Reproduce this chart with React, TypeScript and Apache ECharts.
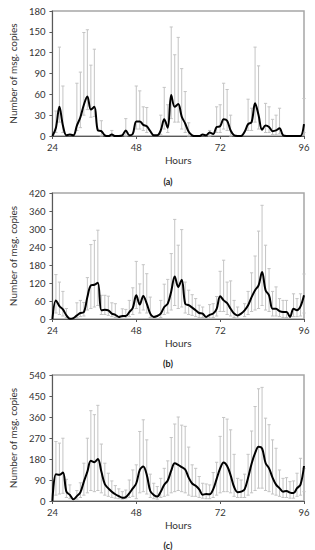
import React, { useEffect, useRef } from "react";
import * as echarts from "echarts";

const hours = [
  24, 25, 26, 27, 28, 29, 30, 31, 32, 33, 34, 35, 36, 37, 38, 39, 40, 41, 42, 43, 44, 45, 46, 47, 48,
  49, 50, 51, 52, 53, 54, 55, 56, 57, 58, 59, 60, 61, 62, 63, 64, 65, 66, 67, 68, 69, 70, 71, 72,
  73, 74, 75, 76, 77, 78, 79, 80, 81, 82, 83, 84, 85, 86, 87, 88, 89, 90, 91, 92, 93, 94, 95, 96,
];
const xTicks = [24, 48, 72, 96];

// Panel (a)
const lineA = [
  0, 12, 42, 15, 1, 2, 1, 15, 27, 45, 57, 38, 42, 8, 7, 1, 0, 2, 0, 0, 1, 8, 1, 3, 21,
  21, 16, 14, 7, 1, 1, 8, 24, 12, 59, 42, 46, 28, 18, 6, 1, 0, 0, 2, 1, 5, 3, 13, 14,
  24, 22, 8, 1, 0, 0, 6, 17, 20, 47, 30, 9, 15, 13, 7, 8, 11, 1, 0, 0, 0, 0, 0, 17,
];
const barHoursA = [25, 26, 27, 31, 32, 33, 34, 35, 36, 38, 41, 45, 48, 49, 50, 51, 55, 56, 57, 58, 59, 60, 61, 62, 63, 69, 71, 72, 73, 74, 75, 80, 81, 82, 83, 85, 86, 87, 88, 89, 96];
const barLowA = [5, 20, 5, 8, 12, 30, 38, 27, 28, 0, 0, 0, 10, 10, 8, 5, 2, 10, 5, 25, 20, 20, 10, 5, 0, 0, 5, 5, 10, 8, 0, 8, 8, 20, 10, 5, 5, 2, 2, 3, 5];
const barHighA = [36, 128, 72, 76, 92, 149, 153, 102, 125, 22, 8, 25, 72, 65, 42, 41, 30, 70, 45, 157, 117, 142, 97, 64, 19, 8, 42, 45, 76, 67, 30, 53, 40, 128, 101, 47, 42, 24, 30, 40, 54];

// Panel (b)
const lineB = [
  0, 62, 43, 32, 12, 1, 3, 12, 20, 23, 73, 112, 114, 121, 29, 31, 29, 18, 14, 7, 10, 10, 23, 37, 79,
  48, 77, 51, 18, 7, 10, 18, 40, 51, 92, 142, 107, 131, 51, 46, 38, 29, 20, 18, 7, 14, 18, 34, 76,
  62, 53, 34, 18, 12, 18, 29, 46, 73, 96, 112, 157, 96, 79, 34, 34, 26, 23, 23, 7, 34, 29, 42, 79,
];
const barHoursB = [25, 26, 27, 28, 31, 32, 33, 34, 35, 36, 37, 38, 39, 40, 41, 42, 44, 45, 46, 47, 48, 49, 50, 51, 52, 55, 56, 57, 58, 59, 60, 61, 62, 63, 64, 65, 66, 67, 69, 70, 71, 72, 73, 74, 75, 76, 77, 79, 80, 81, 82, 83, 84, 85, 86, 87, 88, 89, 90, 91, 93, 94, 95, 96];
const barLowB = [20, 15, 10, 5, 5, 8, 10, 30, 35, 40, 45, 15, 15, 12, 8, 5, 3, 3, 8, 15, 35, 20, 30, 20, 5, 5, 15, 20, 30, 45, 35, 40, 20, 15, 12, 8, 5, 5, 3, 5, 10, 25, 25, 15, 10, 5, 3, 8, 15, 25, 30, 35, 45, 30, 25, 10, 10, 8, 5, 5, 8, 8, 10, 20];
const barHighB = [148, 123, 92, 35, 54, 62, 55, 138, 248, 262, 296, 79, 79, 76, 54, 51, 34, 32, 62, 104, 192, 117, 181, 151, 73, 62, 116, 132, 218, 332, 246, 298, 123, 96, 81, 68, 46, 40, 48, 51, 75, 159, 196, 123, 127, 62, 40, 51, 92, 154, 210, 293, 379, 246, 168, 92, 107, 68, 62, 62, 84, 68, 84, 150];

// Panel (c)
const lineC = [
  0, 115, 112, 122, 40, 26, 7, 21, 37, 83, 126, 172, 166, 180, 126, 72, 54, 40, 29, 21, 14, 17, 33, 54, 76,
  133, 148, 112, 43, 26, 19, 40, 70, 88, 130, 162, 155, 145, 135, 100, 75, 65, 50, 27, 30, 29, 50, 95, 140,
  165, 150, 110, 60, 38, 40, 50, 100, 160, 205, 232, 225, 163, 140, 100, 70, 55, 40, 43, 36, 34, 55, 70, 150,
];
const barHoursC = [25, 26, 27, 28, 29, 31, 32, 33, 34, 35, 36, 37, 38, 39, 40, 41, 42, 43, 44, 45, 46, 47, 48, 49, 50, 51, 52, 53, 54, 55, 56, 57, 58, 59, 60, 61, 62, 63, 64, 65, 66, 67, 68, 69, 70, 71, 72, 73, 74, 75, 76, 77, 78, 79, 80, 81, 82, 83, 84, 85, 86, 87, 88, 89, 90, 91, 92, 93, 94, 95, 96];
const barLowC = [25, 30, 33, 15, 10, 8, 15, 25, 35, 45, 40, 45, 35, 25, 20, 15, 12, 10, 8, 10, 15, 20, 10, 35, 40, 30, 15, 10, 8, 15, 20, 25, 35, 40, 45, 40, 35, 25, 20, 20, 15, 12, 10, 10, 15, 25, 35, 40, 40, 35, 20, 15, 15, 15, 25, 35, 45, 55, 55, 45, 40, 30, 25, 20, 15, 15, 12, 12, 20, 25, 40];
const barHighC = [255, 248, 269, 93, 69, 45, 78, 162, 269, 387, 370, 410, 244, 162, 119, 86, 66, 52, 40, 47, 90, 133, 155, 298, 348, 262, 115, 76, 62, 97, 140, 172, 272, 330, 360, 325, 320, 231, 155, 140, 105, 76, 73, 69, 122, 166, 277, 358, 351, 305, 200, 97, 90, 115, 200, 300, 405, 481, 487, 355, 327, 262, 226, 133, 97, 100, 83, 86, 119, 183, 140];

const yMaxes = [180, 420, 540];
const yIntervals = [30, 60, 90];
const panelLabels = ["(a)", "(b)", "(c)"];
const yAxisTitle = "Number of msg. copies";
const xAxisTitle = "Hours";

const FONT = "Lato, 'Noto Sans', sans-serif";

export default function App() {
  const ref = useRef<HTMLDivElement>(null);
  useEffect(() => {
    if (!ref.current) return;
    const chart = echarts.init(ref.current, null, { renderer: "svg" });
    const tops = [11, 193, 375];
    const heights = [125, 126, 126];
    const labelTops = [178, 360, 542];
    const lines = [lineA, lineB, lineC];
    const bars = [
      [barHoursA, barLowA, barHighA],
      [barHoursB, barLowB, barHighB],
      [barHoursC, barLowC, barHighC],
    ];

    const errRender = (params: any, api: any) => {
      const x = api.value(0);
      const lo = api.value(1);
      const hi = api.value(2);
      const pLo = api.coord([x, lo]);
      const pHi = api.coord([x, hi]);
      const w = 1.6;
      const style = { stroke: "#c4c4c4", lineWidth: 1 };
      return {
        type: "group",
        children: [
          { type: "line", shape: { x1: pHi[0], y1: pHi[1], x2: pLo[0], y2: pLo[1] }, style },
          { type: "line", shape: { x1: pHi[0] - w, y1: pHi[1], x2: pHi[0] + w, y2: pHi[1] }, style },
          { type: "line", shape: { x1: pLo[0] - w, y1: pLo[1], x2: pLo[0] + w, y2: pLo[1] }, style },
        ],
      };
    };

    const grid = tops.map((t, i) => ({
      left: 48,
      width: 256,
      top: t,
      height: heights[i],
      show: true,
      borderColor: "#a6a6a6",
      borderWidth: 1.5,
      backgroundColor: "transparent",
    }));

    const xAxis = tops.map((_, i) => ({
      type: "value",
      gridIndex: i,
      min: xTicks[0],
      max: xTicks[xTicks.length - 1],
      interval: 24,
      name: xAxisTitle,
      nameLocation: "middle",
      nameGap: 19,
      nameTextStyle: { fontFamily: FONT, fontSize: 10, color: "#333" },
      axisLine: { show: true, lineStyle: { color: "#595959", width: 1 } },
      axisTick: { show: true, length: 3, lineStyle: { color: "#595959" } },
      axisLabel: { fontFamily: FONT, fontSize: 9.5, color: "#333", margin: 6 },
      splitLine: { show: false },
    }));

    const yAxis = tops.map((_, i) => ({
      type: "value",
      gridIndex: i,
      min: 0,
      max: yMaxes[i],
      interval: yIntervals[i],
      name: yAxisTitle,
      nameLocation: "middle",
      nameGap: 29,
      nameTextStyle: { fontFamily: FONT, fontSize: 10, color: "#333" },
      axisLine: { show: true, lineStyle: { color: "#595959", width: 1 } },
      axisTick: { show: true, length: 3, lineStyle: { color: "#595959" } },
      axisLabel: { fontFamily: FONT, fontSize: 9.5, color: "#333", margin: 7 },
      splitLine: { show: false },
    }));

    const series: any[] = [];
    for (let i = 0; i < 3; i++) {
      const [bh, bl, bhi] = bars[i];
      series.push({
        type: "custom",
        xAxisIndex: i,
        yAxisIndex: i,
        renderItem: errRender,
        encode: { x: 0, y: [1, 2] },
        data: bh.map((h, k) => [h, bl[k], bhi[k]]),
        z: 1,
        silent: true,
      });
      series.push({
        type: "line",
        xAxisIndex: i,
        yAxisIndex: i,
        data: hours.map((h, k) => [h, lines[i][k]]),
        smooth: 0.35,
        showSymbol: false,
        symbol: "none",
        lineStyle: { color: "#000", width: 2 },
        z: 3,
        silent: true,
      });
    }

    chart.setOption({
      animation: false,
      backgroundColor: "#fff",
      title: panelLabels.map((t, i) => ({
        text: t,
        left: 163,
        top: labelTops[i] - 6,
        textAlign: "center",
        textStyle: { fontFamily: FONT, fontSize: 9, fontWeight: "bold", color: "#222" },
      })),
      grid,
      xAxis,
      yAxis,
      series,
    });
    return () => chart.dispose();
  }, []);
  return (
    <div
      ref={ref}
      style={{ position: "fixed", left: 0, top: 0, width: 315, height: 550 }}
    />
  );
}
